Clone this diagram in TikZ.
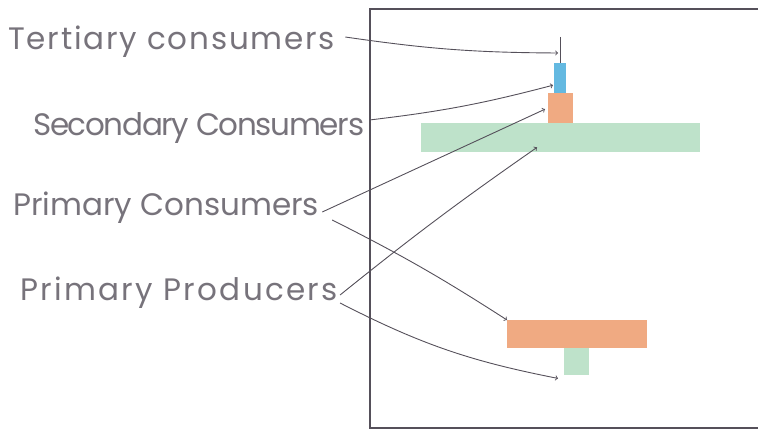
\documentclass[tikz,border=0pt]{standalone}
\usepackage{fontspec}
\setmainfont{Poppins}
\usetikzlibrary{positioning,calc}
\definecolor{barGreen}{RGB}{190,226,202}
\definecolor{barOrange}{RGB}{240,170,130}
\definecolor{barBlue}{RGB}{100,185,225}
\definecolor{pencil}{RGB}{85,80,90}

\begin{document}
\begin{tikzpicture}[
    x=1pt, y=-1pt,
    bar/.style={rectangle, inner sep=0pt, anchor=north west},
    label/.style={anchor=west, inner sep=0pt, text=pencil!80,
        font=\fontsize{31}{36}\selectfont\addfontfeatures{LetterSpace=#1}},
    arrow/.style={->, pencil, line width=0.9pt},
]
\useasboundingbox (0,0) rectangle (758,430);

% frame
\draw[pencil, line width=1.4pt] (758,9) -- (370,9) -- (370,428) -- (758,428);

% top pyramid
\node[bar, fill=barGreen, minimum width=279pt, minimum height=29pt] (prodTop) at (421,123) {};
\node[bar, fill=barOrange, minimum width=25pt, minimum height=30pt] (primTop) at (548,93) {};
\node[bar, fill=barBlue, minimum width=12pt, minimum height=30pt] (secTop) at (554,63) {};
\coordinate (tertTop) at (560,37);
\draw[pencil, line width=0.9pt] (tertTop) -- (secTop.north -| tertTop);

% bottom pyramid
\node[bar, fill=barOrange, minimum width=140pt, minimum height=28pt] (primBot) at (507,320) {};
\node[bar, fill=barGreen, minimum width=25pt, minimum height=27pt] (prodBot) at (564,348) {};

% labels
\node[label=5.8] (tert) at (8,42) {Tertiary consumers};
\node[label=-4.3] (sec) at (33,128) {Secondary Consumers};
\node[label=0] (prim) at (13,208) {Primary Consumers};
\node[label=7.4] (prod) at (20,293) {Primary Producers};

% arrows
\draw[arrow] ([xshift=10pt,yshift=5pt]tert.east) to[bend right=4] ($(tertTop)+(-2,16)$);
\draw[arrow] ([xshift=5pt,yshift=8pt]sec.east) to[bend right=4] ([xshift=-1pt,yshift=-7pt]secTop.west);
\draw[arrow] ([xshift=3pt,yshift=-4pt]prim.east) -- ([xshift=-3pt,yshift=-1pt]primTop.west);
\draw[arrow] ([xshift=13pt,yshift=-12pt]prim.east) to[bend left=3] (primBot.north west);
\draw[arrow] ([xshift=2pt,yshift=-2pt]prod.east) to[bend left=2] ([xshift=116pt,yshift=5pt]prodTop.south west);
\draw[arrow] ([xshift=2pt,yshift=-10pt]prod.east) to[bend right=8] ([xshift=-6pt,yshift=-3pt]prodBot.south west);

\end{tikzpicture}
\end{document}
